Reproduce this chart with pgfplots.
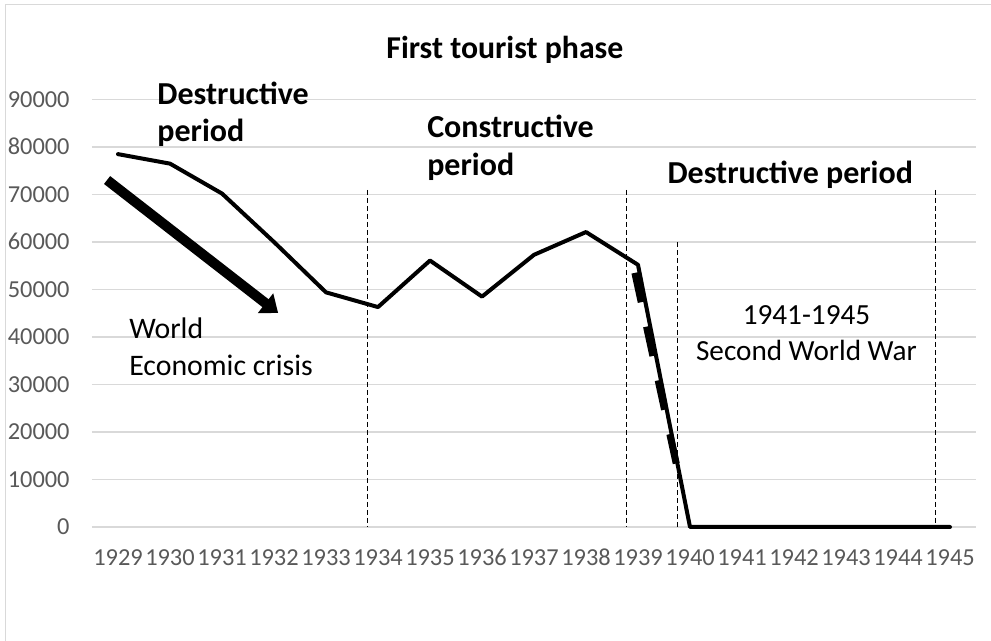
\documentclass[border=0pt]{standalone}
\usepackage{fontspec}
\setmainfont{Carlito}
\usepackage{pgfplots}
\pgfplotsset{compat=1.18}
\usetikzlibrary{arrows.meta}
\definecolor{gridgray}{RGB}{217,217,217}
\definecolor{ticktext}{RGB}{89,89,89}

\begin{document}
\begin{tikzpicture}
% page size: 991x641 px at 0.5pt per px, axis origin at px (92,527)
\path[use as bounding box] (-46pt,-57pt) rectangle (449.5pt,263.5pt);
\draw[gridgray, line width=0.7pt] (-43.25pt,-57pt) -- (-43.25pt,261.25pt) -- (449.5pt,261.25pt);
\begin{axis}[
	at={(0,0)}, anchor=south west,
	width=442pt, height=213.75pt,
	scale only axis,
	xmin=1928.5, xmax=1945.5,
	ymin=0, ymax=90000,
	xtick={1929,1930,...,1945},
	ytick={0,10000,...,90000},
	scaled y ticks=false,
	/pgf/number format/1000 sep={},
	/pgf/number format/assume math mode=true,
	axis line style={draw=none},
	major tick length=0pt,
	ymajorgrids,
	grid style={gridgray, line width=0.75pt},
	ticklabel style={font=\fontsize{12.2}{14}\selectfont, text=ticktext, inner sep=0pt},
	yticklabel style={anchor=base east, xshift=-11pt, yshift=-3.85pt},
	xticklabel style={anchor=base, yshift=-19.35pt},
	clip=false,
]
% main series
\addplot[black, line width=2pt, line join=round, line cap=round] coordinates {
	(1929,78500) (1930,76500) (1931,70200) (1932,60000) (1933,49400)
	(1934,46300) (1935,56100) (1936,48500) (1937,57300) (1938,62100)
	(1939,55200) (1940,0) (1941,0) (1942,0) (1943,0) (1944,0) (1945,0)
};
% period separators
\addplot[black, line width=0.5pt, dash pattern=on 2.5pt off 1.5pt] coordinates {(1933.80,71000) (1933.80,0)};
\addplot[black, line width=0.5pt, dash pattern=on 2.5pt off 1.5pt] coordinates {(1938.77,71000) (1938.77,0)};
\addplot[black, line width=0.5pt, dash pattern=on 2.5pt off 1.5pt] coordinates {(1939.76,60000) (1939.76,0)};
\addplot[black, line width=0.5pt, dash pattern=on 2.5pt off 1.5pt] coordinates {(1944.72,71000) (1944.72,0)};
% crisis arrow
\addplot[black, line width=5pt, -{Triangle[length=8pt,width=12pt]}] coordinates {(1928.79,73050) (1932.08,45050)};
% war drop
\addplot[black, line width=3.5pt, dash pattern=on 15pt off 12.5pt] coordinates {(1938.94,53500) (1939.75,12600)};

\node[font=\bfseries\fontsize{15.9}{19}\selectfont, anchor=base] at (axis cs:1936.44,98670) {First tourist phase};
\node[font=\bfseries\fontsize{16}{19}\selectfont, anchor=base west, inner sep=0pt] at (axis cs:1929.75,89050) {Destructive};
\node[font=\bfseries\fontsize{16}{19}\selectfont, anchor=base west, inner sep=0pt] at (axis cs:1929.75,81120) {period};
\node[font=\bfseries\fontsize{16}{19}\selectfont, anchor=base west, inner sep=0pt] at (axis cs:1934.94,81900) {Constructive};
\node[font=\bfseries\fontsize{16}{19}\selectfont, anchor=base west, inner sep=0pt] at (axis cs:1934.94,74100) {period};
\node[font=\bfseries\fontsize{16}{19}\selectfont, anchor=base west, inner sep=0pt] at (axis cs:1939.56,72360) {Destructive period};
\node[font=\fontsize{14.9}{18}\selectfont, anchor=base west, inner sep=0pt] at (axis cs:1929.21,39730) {World};
\node[font=\fontsize{14.9}{18}\selectfont, anchor=base west, inner sep=0pt] at (axis cs:1929.21,32000) {Economic crisis};
\node[font=\fontsize{14.6}{18}\selectfont, anchor=base, inner sep=0pt] at (axis cs:1942.24,42530) {1941-1945};
\node[font=\fontsize{14.6}{18}\selectfont, anchor=base, inner sep=0pt] at (axis cs:1942.24,35010) {Second World War};
\end{axis}
\end{tikzpicture}
\end{document}
